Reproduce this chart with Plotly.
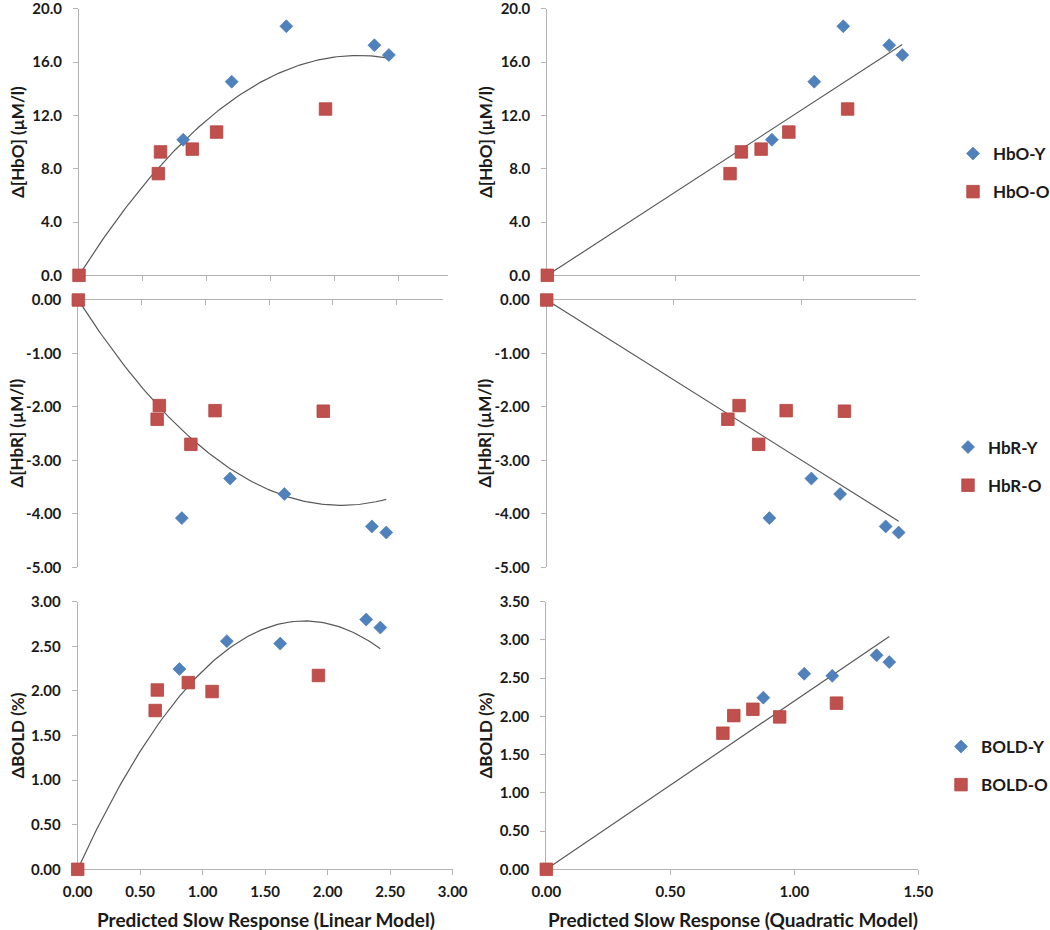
import numpy as np
import plotly.graph_objects as go

# ---------------- data ----------------
# predicted slow response, linear model (x, left column)
lin_x_young = [0.814, 1.193, 1.62, 2.308, 2.421]
lin_x_old = [0.0, 0.62, 0.637, 0.885, 1.075, 1.926]
# predicted slow response, quadratic model (x, right column)
quad_x_young = [0.875, 1.04, 1.153, 1.332, 1.383]
quad_x_old = [0.0, 0.712, 0.756, 0.833, 0.941, 1.17]

hbo_young = [10.17, 14.53, 18.69, 17.27, 16.53]
hbo_old = [0.0, 7.63, 9.26, 9.47, 10.75, 12.48]
hbr_young = [-4.08, -3.34, -3.63, -4.235, -4.35]
hbr_old = [0.0, -2.23, -1.975, -2.70, -2.07, -2.08]
bold_young = [2.245, 2.558, 2.53, 2.80, 2.71]
bold_old = [0.0, 1.78, 2.01, 2.093, 1.993, 2.173]

row_names = ["HbO", "HbR", "BOLD"]
y_titles = ["Δ[HbO] (µM/l)", "Δ[HbR] (µM/l)", "ΔBOLD (%)"]
x_titles = ["Predicted Slow Response (Linear Model)",
            "Predicted Slow Response (Quadratic Model)"]

# ---------------- styling ----------------
W, H = 1050, 930
BLUE = "#4F81BD"
RED = "#C0504D"
AXIS = "#b3b3b3"
TXT = "#1a1a1a"
TREND = "#595959"
FONT = "Lato"


def px_x(v):
    return v / W


def px_y(v):
    return 1 - v / H


fig = go.Figure()

rows = [(hbo_young, hbo_old), (hbr_young, hbr_old), (bold_young, bold_old)]
cols = [(lin_x_young, lin_x_old, 2), (quad_x_young, quad_x_old, 1)]

x_geom = {
    (0, 0): (79.0, 447.6, 2.88), (0, 1): (547.3, 919.5, 1.45),
    (1, 0): (78.3, 442.7, 2.865), (1, 1): (546.7, 915.7, 1.45),
    (2, 0): (77.7, 452.7, 3.0), (2, 1): (546.3, 918.3, 1.5),
}
y_dom = [(8.8, 275.3), (300.0, 567.3), (601.7, 869.3)]
y_rng = {
    (0, 0): ([0, 20], 4, 1), (0, 1): ([0, 20], 4, 1),
    (1, 0): ([-5, 0], 1, 2), (1, 1): ([-5, 0], 1, 2),
    (2, 0): ([0, 3], 0.5, 2), (2, 1): ([0, 3.5], 0.5, 2),
}

legend_names = ["legend", "legend2", "legend3"]
tickfont = dict(family=FONT, size=15, color=TXT, weight="bold")

idx = 0
for r, (yy, yo) in enumerate(rows):
    for c, (xy, xo, deg) in enumerate(cols):
        idx += 1
        xa = "x" if idx == 1 else f"x{idx}"
        ya = "y" if idx == 1 else f"y{idx}"
        show = c == 0
        lg = legend_names[r]
        # trendline: least squares through the origin (Excel style)
        xs_all = np.array(list(xy) + list(xo))
        ys_all = np.array(list(yy) + list(yo))
        A = np.column_stack([xs_all ** k for k in range(1, deg + 1)])
        coef, *_ = np.linalg.lstsq(A, ys_all, rcond=None)
        xf = np.linspace(0, xs_all.max(), 120)
        yf = sum(coef[k] * xf ** (k + 1) for k in range(deg))
        fig.add_trace(go.Scatter(
            x=xf, y=yf, mode="lines", xaxis=xa, yaxis=ya,
            line=dict(color=TREND, width=1.2), showlegend=False,
            hoverinfo="skip"))
        fig.add_trace(go.Scatter(
            x=xy, y=yy, mode="markers", xaxis=xa, yaxis=ya,
            name=f"{row_names[r]}-Y", legend=lg,
            legendgroup=f"{row_names[r]}Y", showlegend=show,
            cliponaxis=False,
            marker=dict(symbol="diamond", size=10, color=BLUE,
                        line=dict(color="#4674ad", width=0.6))))
        fig.add_trace(go.Scatter(
            x=xo, y=yo, mode="markers", xaxis=xa, yaxis=ya,
            name=f"{row_names[r]}-O", legend=lg,
            legendgroup=f"{row_names[r]}O", showlegend=show,
            cliponaxis=False,
            marker=dict(symbol="square", size=12.5, color=RED,
                        line=dict(color="#b5433f", width=0.8))))

        x0, x1, xmax = x_geom[(r, c)]
        yr, ydt, ydec = y_rng[(r, c)]
        ytop, ybot = y_dom[r]
        xkey = "xaxis" if idx == 1 else f"xaxis{idx}"
        ykey = "yaxis" if idx == 1 else f"yaxis{idx}"
        xvals = list(np.arange(0, xmax + 1e-9, 0.5))
        xd = dict(
            domain=[px_x(x0), px_x(x1)], range=[0, xmax], anchor=ya,
            showline=True, linecolor=AXIS, linewidth=1, showgrid=False,
            zeroline=False, tickmode="array", tickvals=xvals,
            ticktext=[f"{v:.2f}" for v in xvals],
            ticklen=5, tickcolor=AXIS, automargin=False,
            ticks="outside", layer="below traces", ticklabeloverflow="allow",
            tickfont=tickfont, showticklabels=(r == 2), ticklabelstandoff=4,
        )
        if r == 1:
            xd["side"] = "top"
            xd["ticks"] = "inside"
        fig.layout[xkey] = xd
        n = int(round((yr[1] - yr[0]) / ydt))
        yvals = [yr[0] + k * ydt for k in range(n + 1)]
        fig.layout[ykey] = dict(
            domain=[px_y(ybot), px_y(ytop)], range=yr, anchor=xa,
            showline=True, linecolor=AXIS, linewidth=1, showgrid=False,
            zeroline=False, tickmode="array", tickvals=yvals,
            ticktext=[f"{v:.{ydec}f}" for v in yvals],
            ticks="outside", ticklen=5, tickcolor=AXIS, layer="below traces",
            tickfont=tickfont, ticklabelstandoff=8, automargin=False,
            ticklabeloverflow="allow",
        )

annotations = []
for r in range(3):
    ytop, ybot = y_dom[r]
    for xc in (17, 485):
        annotations.append(dict(
            text=y_titles[r], xref="paper", yref="paper",
            x=px_x(xc), y=px_y((ytop + ybot) / 2), textangle=-90,
            showarrow=False, xanchor="center", yanchor="middle",
            font=dict(family=FONT, size=17, color=TXT, weight="bold")))
for xc, t in zip((265.5, 733), x_titles):
    annotations.append(dict(
        text=t, xref="paper", yref="paper", x=px_x(xc), y=px_y(919.3),
        showarrow=False, xanchor="center", yanchor="middle",
        font=dict(family=FONT, size=19, color=TXT, weight="bold")))

legend_common = dict(
    xanchor="left", yanchor="middle", traceorder="grouped",
    tracegroupgap=13, bgcolor="rgba(0,0,0,0)",
    font=dict(family=FONT, size=17, color=TXT, weight="bold"),
    itemclick=False, itemdoubleclick=False,
)

fig.update_layout(
    width=W, height=H, margin=dict(l=0, r=0, t=0, b=0, autoexpand=False),
    paper_bgcolor="white", plot_bgcolor="white",
    annotations=annotations,
    legend=dict(x=px_x(953), y=px_y(173), **legend_common),
    legend2=dict(x=px_x(948), y=px_y(466.5), **legend_common),
    legend3=dict(x=px_x(941), y=px_y(766), **legend_common),
    showlegend=True,
)

fig.write_html(
    "out.html",
    config={"displayModeBar": False},
    post_script="document.body.style.margin='0px';"
                "document.body.style.overflow='hidden';",
)
